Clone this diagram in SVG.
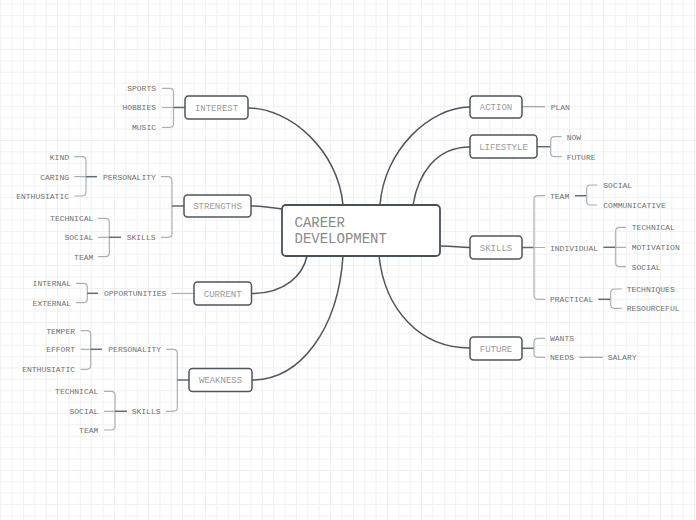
<svg xmlns="http://www.w3.org/2000/svg" width="696" height="520" viewBox="0 0 696 520">
<defs>
<pattern id="grid" patternUnits="userSpaceOnUse" width="11.375" height="11.375" x="0.2" y="3.5">
<path d="M0.5,0 V11.375 M0,0.5 H11.375" stroke="#f0f0f0" stroke-width="1" fill="none"/>
</pattern>
<style>
.box{fill:#ffffff;stroke:#50565e;stroke-width:1.5}
.main{fill:#ffffff;stroke:#4a5058;stroke-width:1.8}
.nt{font-family:"Liberation Mono","DejaVu Sans Mono",monospace;font-size:9px;fill:#9a9a9a;text-anchor:middle}
.mt{font-family:"Liberation Mono","DejaVu Sans Mono",monospace;font-size:14px;fill:#8a8a8a}
.lt{font-family:"Liberation Mono","DejaVu Sans Mono",monospace;font-size:8px;fill:#707070}
.r{text-anchor:end}
.curve{fill:none;stroke:#4f555d;stroke-width:1.5}
.br{fill:none;stroke:#aab0b6;stroke-width:1.2}
.dk{fill:none;stroke:#646a72;stroke-width:1.5}
.md{fill:none;stroke:#9aa0a6;stroke-width:1.2}
</style>
</defs>
<rect width="696" height="520" fill="#ffffff"/>
<rect width="696" height="520" fill="url(#grid)"/>

<g id="connectors">
<path class="curve" d="M248,108 C290,108 338,150 343,205"/>
<path class="curve" d="M251,206 C265,206 270,208 282,209"/>
<path class="curve" d="M252,293.5 C285,293.5 303,275 307,256"/>
<path class="curve" d="M252,380 C300,380 338,330 343,256"/>
<path class="curve" d="M470,107 C430,107 384,150 380,205"/>
<path class="curve" d="M470,147 C435,147 418,175 413,205"/>
<path class="curve" d="M441,246 C455,246 458,247.5 470,247.5"/>
<path class="curve" d="M379,256 C385,310 420,348 470,348"/>

<path class="br" d="M162,88.3 H170 Q173.5,88.3 173.5,92 V123.5 Q173.5,127.3 170,127.3 H162 M162,107.5 H173.5"/>
<path class="dk" d="M173.5,107.5 H185"/>
<path class="br" d="M161,176.7 H168 Q172,176.7 172,181 V233 Q172,237.3 168,237.3 H161"/>
<path class="dk" d="M172,206 H184"/>
<path class="br" d="M74.3,156.7 H82 Q86,156.7 86,160.5 V192 Q86,196 82,196 H74.3 M74.3,176.7 H86"/>
<path class="dk" d="M86,176.7 H97"/>
<path class="br" d="M98,218.3 H105.5 Q109.3,218.3 109.3,222 V253 Q109.3,256.7 105.5,256.7 H98 M98,237.3 H109.3"/>
<path class="dk" d="M109.3,237.3 H121"/>
<path class="br" d="M76,283.3 H83.5 Q87.3,283.3 87.3,287 V299 Q87.3,302.7 83.5,302.7 H76"/>
<path class="dk" d="M87.3,293.3 H98"/>
<path class="br" d="M171.7,293.5 H194"/>
<path class="br" d="M166,349.3 H173.5 Q177.3,349.3 177.3,353 V407.5 Q177.3,411.3 173.5,411.3 H166"/>
<path class="dk" d="M177.3,380 H189"/>
<path class="br" d="M80.7,330.7 H87 Q90.7,330.7 90.7,334.5 V365.5 Q90.7,369.3 87,369.3 H80.7 M80.7,349.3 H90.7"/>
<path class="dk" d="M90.7,349.3 H102"/>
<path class="br" d="M104,391.3 H111 Q115,391.3 115,395 V426.3 Q115,430 111,430 H104 M104,411.3 H115"/>
<path class="dk" d="M115,411.3 H127"/>

<path class="md" d="M522,106.7 H545"/>
<path class="dk" d="M537,146.7 H550.7"/>
<path class="br" d="M561.7,136.7 H554.5 Q550.7,136.7 550.7,140.5 V153 Q550.7,156.7 554.5,156.7 H561.7"/>
<path class="dk" d="M522,247.5 H534"/>
<path class="br" d="M545,195.7 H538 Q534,195.7 534,199.5 V295.5 Q534,299.3 538,299.3 H545 M534,247.5 H545"/>
<path class="dk" d="M575,195.7 H586.7"/>
<path class="br" d="M597.3,185 H590.5 Q586.7,185 586.7,188.8 V201.2 Q586.7,205 590.5,205 H597.3"/>
<path class="dk" d="M603.3,247.3 H615.7"/>
<path class="br" d="M626,227.3 H619.5 Q615.7,227.3 615.7,231 V263 Q615.7,266.7 619.5,266.7 H626 M615.7,247.3 H626"/>
<path class="dk" d="M598.3,299.3 H610.7"/>
<path class="br" d="M621.7,289 H614.5 Q610.7,289 610.7,292.8 V304.5 Q610.7,308.3 614.5,308.3 H621.7"/>
<path class="dk" d="M522,348.3 H534"/>
<path class="br" d="M545,338.3 H538 Q534,338.3 534,342 V353.5 Q534,357.3 538,357.3 H545"/>
<path class="md" d="M579.3,357.3 H602.7"/>
</g>

<g id="career-development">
<rect class="main" x="282" y="205" width="158" height="51" rx="4"/>
<text class="mt" x="294.5" y="226.5">CAREER</text>
<text class="mt" x="294.5" y="243">DEVELOPMENT</text>
</g>

<g id="interest">
<rect class="box" x="185" y="96" width="63" height="23" rx="3.5"/>
<text class="nt" x="216.5" y="110.8">INTEREST</text>
</g>
<g id="interest-leaves">
<text class="lt r" x="156" y="91.3">SPORTS</text>
<text class="lt r" x="156" y="110.3">HOBBIES</text>
<text class="lt r" x="156" y="130.3">MUSIC</text>
</g>

<g id="strengths">
<rect class="box" x="184" y="195" width="67" height="22" rx="3.5"/>
<text class="nt" x="217.5" y="209.3">STRENGTHS</text>
</g>
<g id="strengths-personality">
<text class="lt" x="103" y="179.7">PERSONALITY</text>
<text class="lt r" x="69" y="159.7">KIND</text>
<text class="lt r" x="69" y="179.7">CARING</text>
<text class="lt r" x="69" y="199">ENTHUSIATIC</text>
</g>
<g id="strengths-skills">
<text class="lt" x="126.7" y="240.3">SKILLS</text>
<text class="lt r" x="93.3" y="221.3">TECHNICAL</text>
<text class="lt r" x="93.3" y="240.3">SOCIAL</text>
<text class="lt r" x="93.3" y="259.7">TEAM</text>
</g>

<g id="current">
<rect class="box" x="194" y="282" width="57.5" height="23" rx="3.5"/>
<text class="nt" x="222.7" y="296.8">CURRENT</text>
</g>
<g id="current-opportunities">
<text class="lt" x="104" y="296.3">OPPORTUNITIES</text>
<text class="lt r" x="71" y="286.3">INTERNAL</text>
<text class="lt r" x="71" y="305.7">EXTERNAL</text>
</g>

<g id="weakness">
<rect class="box" x="189" y="368.5" width="63" height="23" rx="3.5"/>
<text class="nt" x="220.5" y="383.3">WEAKNESS</text>
</g>
<g id="weakness-personality">
<text class="lt" x="108.3" y="352.3">PERSONALITY</text>
<text class="lt r" x="75" y="333.7">TEMPER</text>
<text class="lt r" x="75" y="352.3">EFFORT</text>
<text class="lt r" x="75" y="372.3">ENTHUSIATIC</text>
</g>
<g id="weakness-skills">
<text class="lt" x="131.7" y="414.3">SKILLS</text>
<text class="lt r" x="98.3" y="394.3">TECHNICAL</text>
<text class="lt r" x="98.3" y="414.3">SOCIAL</text>
<text class="lt r" x="98.3" y="433">TEAM</text>
</g>

<g id="action">
<rect class="box" x="470" y="96" width="52" height="22" rx="3.5"/>
<text class="nt" x="496" y="110.2">ACTION</text>
</g>
<g id="action-leaves">
<text class="lt" x="550.7" y="109.7">PLAN</text>
</g>

<g id="lifestyle">
<rect class="box" x="470" y="135" width="67" height="23" rx="3.5"/>
<text class="nt" x="503.5" y="150">LIFESTYLE</text>
</g>
<g id="lifestyle-leaves">
<text class="lt" x="566.7" y="139.7">NOW</text>
<text class="lt" x="566.7" y="159.7">FUTURE</text>
</g>

<g id="skills">
<rect class="box" x="470" y="236" width="52" height="23" rx="3.5"/>
<text class="nt" x="496" y="250.8">SKILLS</text>
</g>
<g id="skills-team">
<text class="lt" x="550" y="198.7">TEAM</text>
<text class="lt" x="603.3" y="188">SOCIAL</text>
<text class="lt" x="603.3" y="208">COMMUNICATIVE</text>
</g>
<g id="skills-individual">
<text class="lt" x="550" y="250.5">INDIVIDUAL</text>
<text class="lt" x="631.7" y="230.3">TECHNICAL</text>
<text class="lt" x="631.7" y="250.3">MOTIVATION</text>
<text class="lt" x="631.7" y="269.7">SOCIAL</text>
</g>
<g id="skills-practical">
<text class="lt" x="550" y="302.3">PRACTICAL</text>
<text class="lt" x="626.7" y="292">TECHNIQUES</text>
<text class="lt" x="626.7" y="311.3">RESOURCEFUL</text>
</g>

<g id="future">
<rect class="box" x="470" y="337" width="52" height="23" rx="3.5"/>
<text class="nt" x="496" y="351.6">FUTURE</text>
</g>
<g id="future-leaves">
<text class="lt" x="550" y="341.3">WANTS</text>
<text class="lt" x="550" y="360.3">NEEDS</text>
<text class="lt" x="607.7" y="360.3">SALARY</text>
</g>
</svg>
